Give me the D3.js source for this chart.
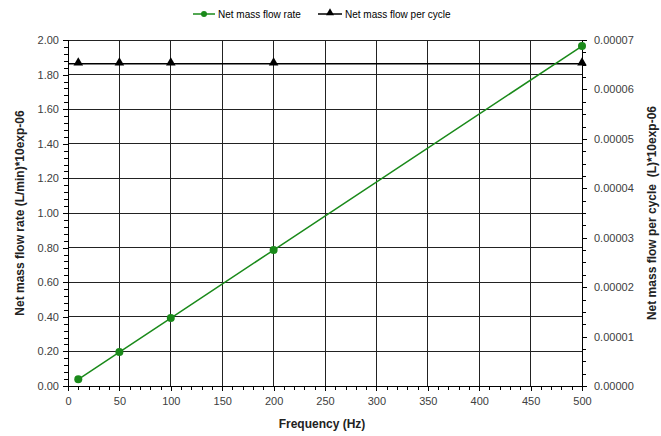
<!DOCTYPE html>
<html>
<head>
<meta charset="utf-8">
<script src="https://cdn.jsdelivr.net/npm/d3@7"></script>
<style>
	body { margin: 0; background: #fff; }
	text { font-family: "Liberation Sans", Arial, sans-serif; }
</style>
</head>
<body>
<div id="chart-area"></div>
<script>
// Data
let frequency = [10, 50, 100, 200, 500];
let flowRate = [0.039, 0.196, 0.393, 0.786, 1.965];            // (L/min)*10exp-06
let flowPerCycle = [0.0000652, 0.0000652, 0.0000652, 0.0000652, 0.0000652]; // (L)*10exp-06

let xTicks = d3.range(0, 501, 50);
let yLeftTicks = d3.range(0, 2.001, 0.2);
let yRightTicks = d3.range(0, 0.0000701, 0.00001);

let width = 661,
	height = 436;

let margin = {top: 40, right: 79, bottom: 50, left: 68};
let w = width - margin.left - margin.right,
	h = height - margin.top - margin.bottom;

let svg = d3.select("#chart-area").append("svg")
	.attr("width", width)
	.attr("height", height);

let g = svg.append("g")
	.attr("transform", "translate(" + margin.left + "," + margin.top + ")");

let x = d3.scaleLinear().domain([0, 500]).range([0, w]);
let yLeft = d3.scaleLinear().domain([0, 2]).range([h, 0]);
let yRight = d3.scaleLinear().domain([0, 0.00007]).range([h, 0]);

// grid
g.append("g").selectAll("line").data(xTicks.slice(1, -1)).enter().append("line")
	.attr("x1", d => x(d)).attr("x2", d => x(d))
	.attr("y1", 0).attr("y2", h)
	.attr("stroke", "#222").attr("stroke-width", 1).attr("shape-rendering", "crispEdges");

g.append("g").selectAll("line").data(yLeftTicks.slice(1)).enter().append("line")
	.attr("x1", 0).attr("x2", w)
	.attr("y1", d => yLeft(d)).attr("y2", d => yLeft(d))
	.attr("stroke", "#222").attr("stroke-width", 1).attr("shape-rendering", "crispEdges");

// axes
let tickColor = "#404040";

function styleAxis(sel) {
	sel.selectAll("path, line").attr("stroke", "#000").attr("shape-rendering", "crispEdges");
	sel.selectAll("text").attr("fill", tickColor).style("font-size", "11px");
}

// minor ticks (outside)
g.append("g")
	.attr("transform", "translate(0," + h + ")")
	.call(d3.axisBottom(x).tickValues(d3.range(0, 501, 10)).tickSize(4).tickFormat(""))
	.call(styleAxis);
g.append("g")
	.call(d3.axisLeft(yLeft).tickValues(d3.range(0, 2.001, 0.04)).tickSize(4).tickFormat(""))
	.call(styleAxis);
g.append("g")
	.attr("transform", "translate(" + w + ",0)")
	.call(d3.axisRight(yRight).tickValues(d3.range(0, 0.0000701, 0.0000025)).tickSize(4).tickFormat(""))
	.call(styleAxis);

// major ticks
let xAxis = g.append("g")
	.attr("transform", "translate(0," + h + ")")
	.call(d3.axisBottom(x).tickValues(xTicks).tickSize(5).tickPadding(6).tickFormat(d3.format("d")))
	.call(styleAxis);
xAxis.select(".domain").remove();

let yAxisL = g.append("g")
	.call(d3.axisLeft(yLeft).tickValues(yLeftTicks).tickSize(5).tickPadding(4).tickFormat(d3.format(".2f")))
	.call(styleAxis);
yAxisL.select(".domain").remove();

let yAxisR = g.append("g")
	.attr("transform", "translate(" + w + ",0)")
	.call(d3.axisRight(yRight).tickValues(yRightTicks).tickSize(5).tickPadding(7).tickFormat(d3.format(".5f")))
	.call(styleAxis);
yAxisR.select(".domain").remove();

// frame lines: left, right, bottom axis lines
g.append("line").attr("x1", 0).attr("x2", 0).attr("y1", 0).attr("y2", h)
	.attr("stroke", "#000").attr("shape-rendering", "crispEdges");
g.append("line").attr("x1", w).attr("x2", w).attr("y1", 0).attr("y2", h)
	.attr("stroke", "#000").attr("shape-rendering", "crispEdges");
g.append("line").attr("x1", 0).attr("x2", w).attr("y1", h).attr("y2", h)
	.attr("stroke", "#000").attr("shape-rendering", "crispEdges");

// series: flow per cycle
let green = "#1a8a1a";

let perCycleLine = d3.line()
	.x(d => x(d[0]))
	.y(d => yRight(d[1]));

g.append("line")
	.attr("x1", 0).attr("x2", x(frequency[0]))
	.attr("y1", yRight(flowPerCycle[0])).attr("y2", yRight(flowPerCycle[0]))
	.attr("stroke", "#000").attr("stroke-width", 1.5);

g.append("path")
	.datum(d3.zip(frequency, flowPerCycle))
	.attr("d", perCycleLine)
	.attr("fill", "none")
	.attr("stroke", "#000")
	.attr("stroke-width", 1.5);

let tri = d3.symbol().type(d3.symbolTriangle).size(40);
g.append("g").selectAll("path").data(d3.zip(frequency, flowPerCycle)).enter().append("path")
	.attr("d", tri)
	.attr("transform", d => "translate(" + x(d[0]) + "," + (yRight(d[1]) - 1) + ")")
	.attr("fill", "#000");

// series: flow rate
let rateLine = d3.line()
	.x(d => x(d[0]))
	.y(d => yLeft(d[1]));

g.append("path")
	.datum(d3.zip(frequency, flowRate))
	.attr("d", rateLine)
	.attr("fill", "none")
	.attr("stroke", green)
	.attr("stroke-width", 1.5);

g.append("g").selectAll("circle").data(d3.zip(frequency, flowRate)).enter().append("circle")
	.attr("cx", d => x(d[0]))
	.attr("cy", d => yLeft(d[1]))
	.attr("r", 4)
	.attr("fill", green);

// axis titles
svg.append("text")
	.attr("x", margin.left + w / 2 - 3)
	.attr("y", 428)
	.attr("text-anchor", "middle")
	.style("font-size", "12px").style("font-weight", "bold")
	.attr("fill", "#222")
	.text("Frequency (Hz)");

svg.append("text")
	.attr("transform", "translate(24," + (margin.top + h / 2) + ") rotate(-90)")
	.attr("text-anchor", "middle")
	.style("font-size", "12px").style("font-weight", "bold")
	.attr("fill", "#222")
	.text("Net mass flow rate (L/min)*10exp-06");

svg.append("text")
	.attr("transform", "translate(656," + (margin.top + h / 2) + ") rotate(-90)")
	.attr("text-anchor", "middle")
	.style("font-size", "12px").style("font-weight", "bold")
	.attr("fill", "#222")
	.style("white-space", "pre")
	.text("Net mass flow per cycle  (L)*10exp-06");

// legend
let legend = svg.append("g").attr("transform", "translate(0,14)");

legend.append("line").attr("x1", 193).attr("x2", 215).attr("y1", 0).attr("y2", 0)
	.attr("stroke", green).attr("stroke-width", 1.5);
legend.append("circle").attr("cx", 204).attr("cy", 0).attr("r", 3).attr("fill", green);
legend.append("text").attr("x", 218).attr("y", 0).attr("dy", "0.35em")
	.style("font-size", "10px").attr("fill", "#000").text("Net mass flow rate");

legend.append("line").attr("x1", 318).attr("x2", 342).attr("y1", 0).attr("y2", 0)
	.attr("stroke", "#000").attr("stroke-width", 1.5);
legend.append("path").attr("d", d3.symbol().type(d3.symbolTriangle).size(28))
	.attr("transform", "translate(330,-1)").attr("fill", "#000");
legend.append("text").attr("x", 345).attr("y", 0).attr("dy", "0.35em")
	.style("font-size", "10px").attr("fill", "#000").text("Net mass flow per cycle");
</script>
</body>
</html>
